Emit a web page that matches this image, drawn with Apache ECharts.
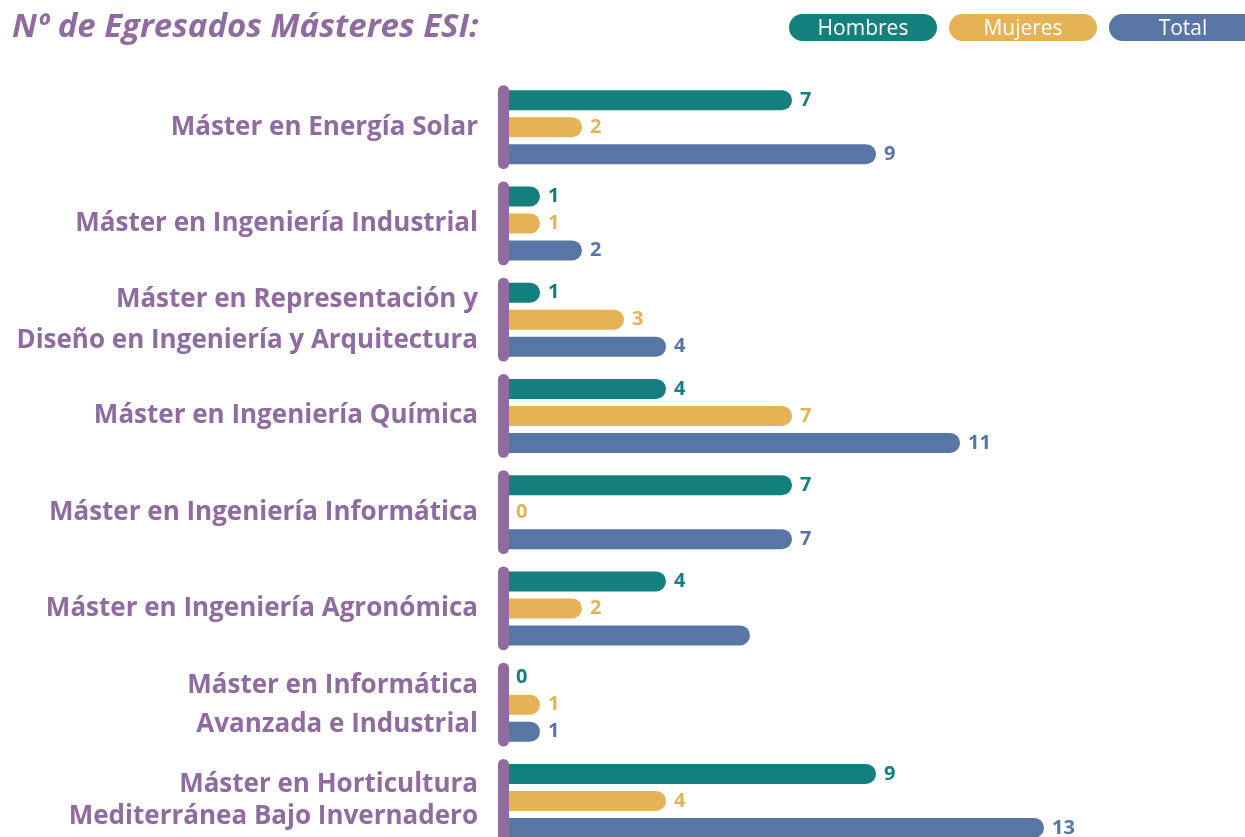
<!DOCTYPE html>
<html lang="es">
<head>
<meta charset="UTF-8">
<title>Nº de Egresados Másteres ESI</title>
<script src="https://cdn.jsdelivr.net/npm/echarts@6/dist/echarts.min.js"></script>
<style>
  html, body { margin: 0; padding: 0; background: #fff; overflow: hidden; }
  /* el original esta cortado por abajo: el lienzo es mas alto que la ventana */
  #chart { width: 1245px; height: 870px; }
</style>
</head>
<body>
<div id="chart"></div>
<script>
// datos
var categories = [
    'Máster en Energía Solar',
    'Máster en Ingeniería Industrial',
    'Máster en Representación y\nDiseño en Ingeniería y Arquitectura',
    'Máster en Ingeniería Química',
    'Máster en Ingeniería Informática',
    'Máster en Ingeniería Agronómica',
    'Máster en Informática\nAvanzada e Industrial',
    'Máster en Horticultura\nMediterránea Bajo Invernadero'
];
var seriesNames = ['Hombres', 'Mujeres', 'Total'];
var hombres = [7, 1, 1, 4, 7, 4, 0, 9];
var mujeres = [2, 1, 3, 7, 0, 2, 1, 4];
var total = [9, 2, 4, 11, 7, 6, 1, 13];
// la barra Total de Agronómica no lleva etiqueta en el original
var totalNoLabel = [5];
// interlineado de cada etiqueta de categoria (no es igual en todas)
var labelLineHeights = [40, 40, 41, 40, 40, 40, 39, 32];

var colors = ['#13807e', '#e5b256', '#5775a5'];
var purple = '#8f6ba0';
var font = 'Open Sans';

function barSeries(name, values, color, noLabel) {
    return {
        name: name,
        type: 'bar',
        barWidth: 20,
        barGap: '35%',
        itemStyle: { color: color, borderRadius: [0, 10, 10, 0] },
        label: {
            show: true,
            position: 'right',
            distance: 8,
            color: color,
            fontFamily: font,
            fontWeight: 'bold',
            fontSize: 20
        },
        data: values.map(function (v, i) {
            if (noLabel && noLabel.indexOf(i) >= 0) {
                return { value: v, label: { show: false } };
            }
            if (v === 0) {
                // el cero queda tapado por el eje si no se aparta
                return { value: v, label: { distance: 18 } };
            }
            return v;
        }),
        z: 2
    };
}

function pill(color) {
    return {
        backgroundColor: color,
        color: '#fff',
        width: 148,
        height: 23,
        padding: [4, 0, 0, 0],
        borderRadius: 13.5,
        align: 'center',
        fontFamily: font,
        fontSize: 21
    };
}

var chart = echarts.init(document.getElementById('chart'));
var option = {
    animation: false,
    title: {
        text: 'Nº de Egresados Másteres ESI:',
        left: 7,
        top: 6,
        textStyle: {
            color: purple,
            fontFamily: font,
            fontStyle: 'italic',
            fontWeight: 'bold',
            fontSize: 33
        }
    },
    legend: {
        data: seriesNames,
        top: 14,
        left: 789,
        width: 700,
        padding: 0,
        itemWidth: 0,
        itemHeight: 0,
        itemGap: 12,
        icon: 'rect',
        formatter: function (name) {
            var key = name === 'Hombres' ? 'h' : (name === 'Mujeres' ? 'm' : 't');
            return '{' + key + '|' + name + '}';
        },
        textStyle: {
            padding: [0, 0, 0, -5],
            rich: {
                h: pill(colors[0]),
                m: pill(colors[1]),
                t: pill(colors[2])
            }
        }
    },
    grid: {
        left: 498,
        top: 79,
        width: 714,
        height: 770
    },
    xAxis: {
        type: 'value',
        min: 0,
        max: 17,
        show: false
    },
    yAxis: {
        type: 'category',
        data: categories.map(function (c, i) {
            return { value: c, textStyle: { lineHeight: labelLineHeights[i] } };
        }),
        inverse: true,
        axisLine: { show: false },
        axisTick: { show: false },
        axisLabel: {
            margin: 20,
            padding: [5, 0, 0, 0],
            color: purple,
            fontFamily: font,
            fontWeight: 'bold',
            fontSize: 26,
            lineHeight: 40
        }
    },
    series: [
        barSeries(seriesNames[0], hombres, colors[0]),
        barSeries(seriesNames[1], mujeres, colors[1]),
        barSeries(seriesNames[2], total, colors[2], totalNoLabel),
        {
            // segmentos morados del eje por categoria
            type: 'custom',
            silent: true,
            z: 5,
            encode: { x: 0, y: 1 },
            data: categories.map(function (c, i) { return [0, i]; }),
            renderItem: function (params, api) {
                var p = api.coord([0, api.value(1)]);
                var band = api.size([0, 1])[1];
                var h = band * 0.87;
                return {
                    type: 'rect',
                    shape: { x: p[0], y: p[1] - h / 2, width: 11, height: h, r: 5.5 },
                    style: { fill: purple }
                };
            }
        }
    ]
};
chart.setOption(option);
</script>
</body>
</html>
